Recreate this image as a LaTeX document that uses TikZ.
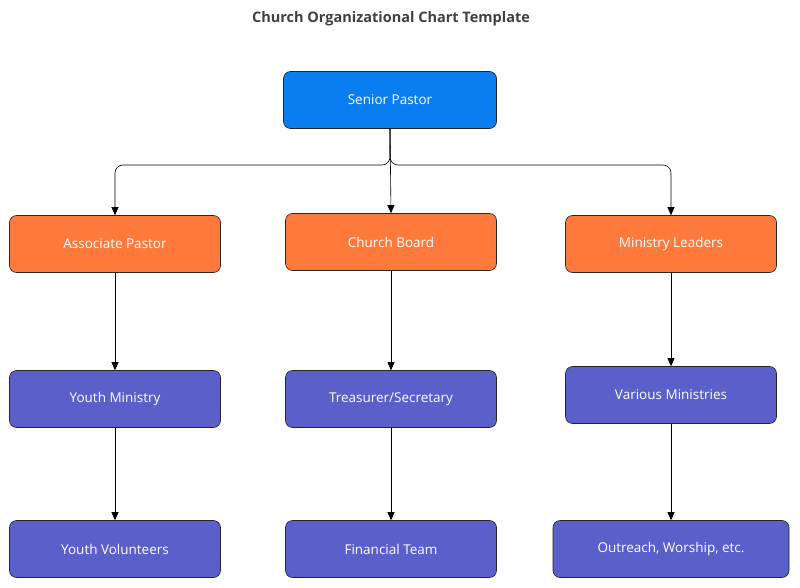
\documentclass[tikz,border=0pt]{standalone}
\usepackage{fontspec}
\setmainfont{Open Sans}
\usetikzlibrary{arrows.meta}
\definecolor{cblue}{HTML}{0A7EF0}
\definecolor{corange}{HTML}{FD7A3C}
\definecolor{cpurple}{HTML}{5A5FC9}
\begin{document}
\begin{tikzpicture}[x=1pt,y=-1pt,
 box/.style={draw=black!85,line width=0.6pt,rounded corners=7pt,minimum width=211pt,minimum height=57pt,text=white,font=\fontsize{13.5}{16}\selectfont},
 lead/.style={box,fill=cblue},
 mid/.style={box,fill=corange},
 low/.style={box,fill=cpurple},
 arr/.style={-{Triangle[length=8pt,width=7pt]},line width=0.6pt,black}]
\useasboundingbox (0,0) rectangle (800,588);
\node[font=\bfseries\fontsize{14.5}{17}\selectfont,text=black!75] (title) at (391,19) {Church Organizational Chart Template};
\node[lead,minimum width=213pt] (sp) at (390,100) {Senior Pastor};
\node[mid] (ap) at (115,244) {Associate Pastor};
\node[mid] (cb) at (391,242) {Church Board};
\node[mid] (ml) at (671,244) {Ministry Leaders};
\node[low] (ym) at (115,399) {Youth Ministry};
\node[low] (ts) at (391,399) {Treasurer/Secretary};
\node[low] (vm) at (671,395) {Various Ministries};
\node[low] (yv) at (115,549) {Youth Volunteers};
\node[low] (ft) at (391,549) {Financial Team};
\node[low,minimum width=236pt] (ow) at (671,549) {Outreach, Worship, etc.};
\coordinate (j) at (390,165);
\draw[arr,rounded corners=8pt] (sp.south) -- (j) -| (ap.north);
\draw[arr,rounded corners=8pt] (sp.south) -- (j) -| (ml.north);
\draw[arr] (sp.south) -- (cb.north);
\draw[arr] (ap.south) -- (ym.north);
\draw[arr] (cb.south) -- (ts.north);
\draw[arr] (ml.south) -- (vm.north);
\draw[arr] (ym.south) -- (yv.north);
\draw[arr] (ts.south) -- (ft.north);
\draw[arr] (vm.south) -- (ow.north);
\end{tikzpicture}
\end{document}
